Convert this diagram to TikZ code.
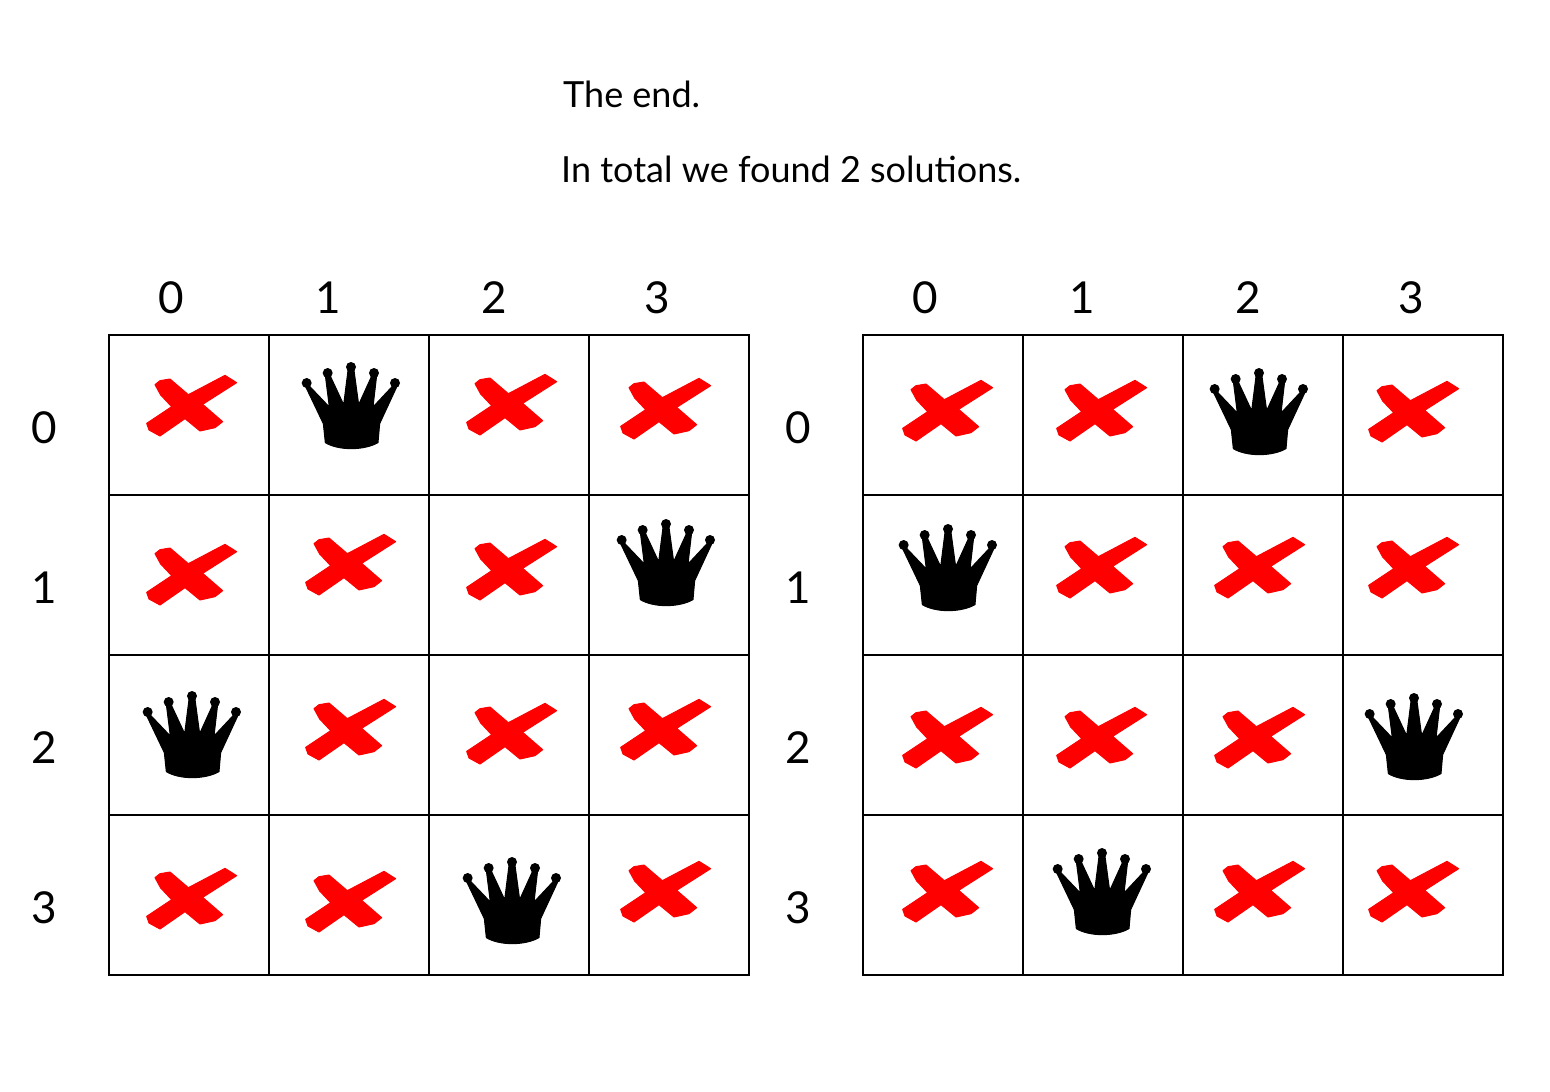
\documentclass[tikz,border=0pt]{standalone}
\usepackage{fontspec}
\setmainfont{Lato}
\definecolor{xred}{RGB}{255,0,0}
\tikzset{
  gridline/.style={draw=black,line width=2.5pt,line cap=rect},
  toptext/.style={anchor=base west,inner sep=0pt,font=\fontsize{36}{36}\selectfont},
  idx/.style={inner sep=0pt,font=\fontsize{44}{44}\selectfont},
  crownpic/.pic={
    \begin{scope}[scale=1/3,shift={(-167,-20)}]
      \filldraw[black,line width=1pt,line join=round] (90,262) -- (84,205) -- (30,92) -- (42,92) -- (102,155) -- (90,60) -- (104,60) -- (145,148) -- (158,45) -- (176,45) -- (190,148) -- (230,60) -- (244,60) -- (233,155) -- (292,92) -- (304,95) -- (253,205) -- (248,262) .. controls (205,286) and (130,286) .. (90,262) -- cycle;
      \foreach \bx/\by in {34/83,97/53,167/35,236/53,299/83}
        \fill[black] (\bx,\by) circle (15);
    \end{scope}
  },
  crosspic/.pic={
    \begin{scope}[scale=1/3,shift={(-156,-108)}]
      \filldraw[fill=xred,draw=xred,line width=1pt,line join=round] (45,44) -- (60,32) -- (90,27) -- (145,74) -- (255,16) -- (290,38) -- (188,103) -- (248,155) -- (225,173) -- (180,183) -- (135,146) -- (60,198) -- (27,180) -- (20,160) -- (95,110) -- (62,75) -- cycle;
    \end{scope}
  }
}
\begin{document}
\begin{tikzpicture}[x=1pt,y=-1pt]
\useasboundingbox (0,0) rectangle (1550,1092);
\fill[white] (0,0) rectangle (1550,1092);
\node[toptext] (endtext) at (563,107) {The end.};
\node[toptext] (totaltext) at (561,182) {In total we found 2 solutions.};
% grids
\foreach \ox in {109,863}{
  \foreach \i in {0,...,4}{
    \draw[gridline] ({\ox+160*\i},335) -- ({\ox+160*\i},975);
    \draw[gridline] (\ox,{335+160*\i}) -- ({\ox+640},{335+160*\i});
  }
}
% column labels
\foreach \n/\px/\t in {a0/171/0,a1/328/1,a2/494/2,a3/657/3,b0/925/0,b1/1082/1,b2/1248/2,b3/1411/3}
  \node[idx] (col\n) at (\px,298) {\t};
% row labels
\foreach \n/\px/\py/\t in {a0/44/428/0,a1/44/588/1,a2/44/748/2,a3/44/908/3,b0/798/428/0,b1/798/588/1,b2/798/748/2,b3/798/908/3}
  \node[idx] (row\n) at (\px,\py) {\t};
% crowns
\foreach \px/\py in {351/362,666/519,192/691,512/857,1259/368,948/524,1414/693,1102/848}
  \pic at (\px,\py) {crownpic};
% crosses
\foreach \px/\py in {192/406,512/405,666/409,192/575,351/565,512/570,351/730,512/734,666/730,192/899,351/902,666/892,
  948/411,1102/411,1414/412,1102/568,1260/568,1414/568,948/738,1102/738,1260/738,948/892,1260/892,1414/892}
  \pic at (\px,\py) {crosspic};
\end{tikzpicture}
\end{document}
